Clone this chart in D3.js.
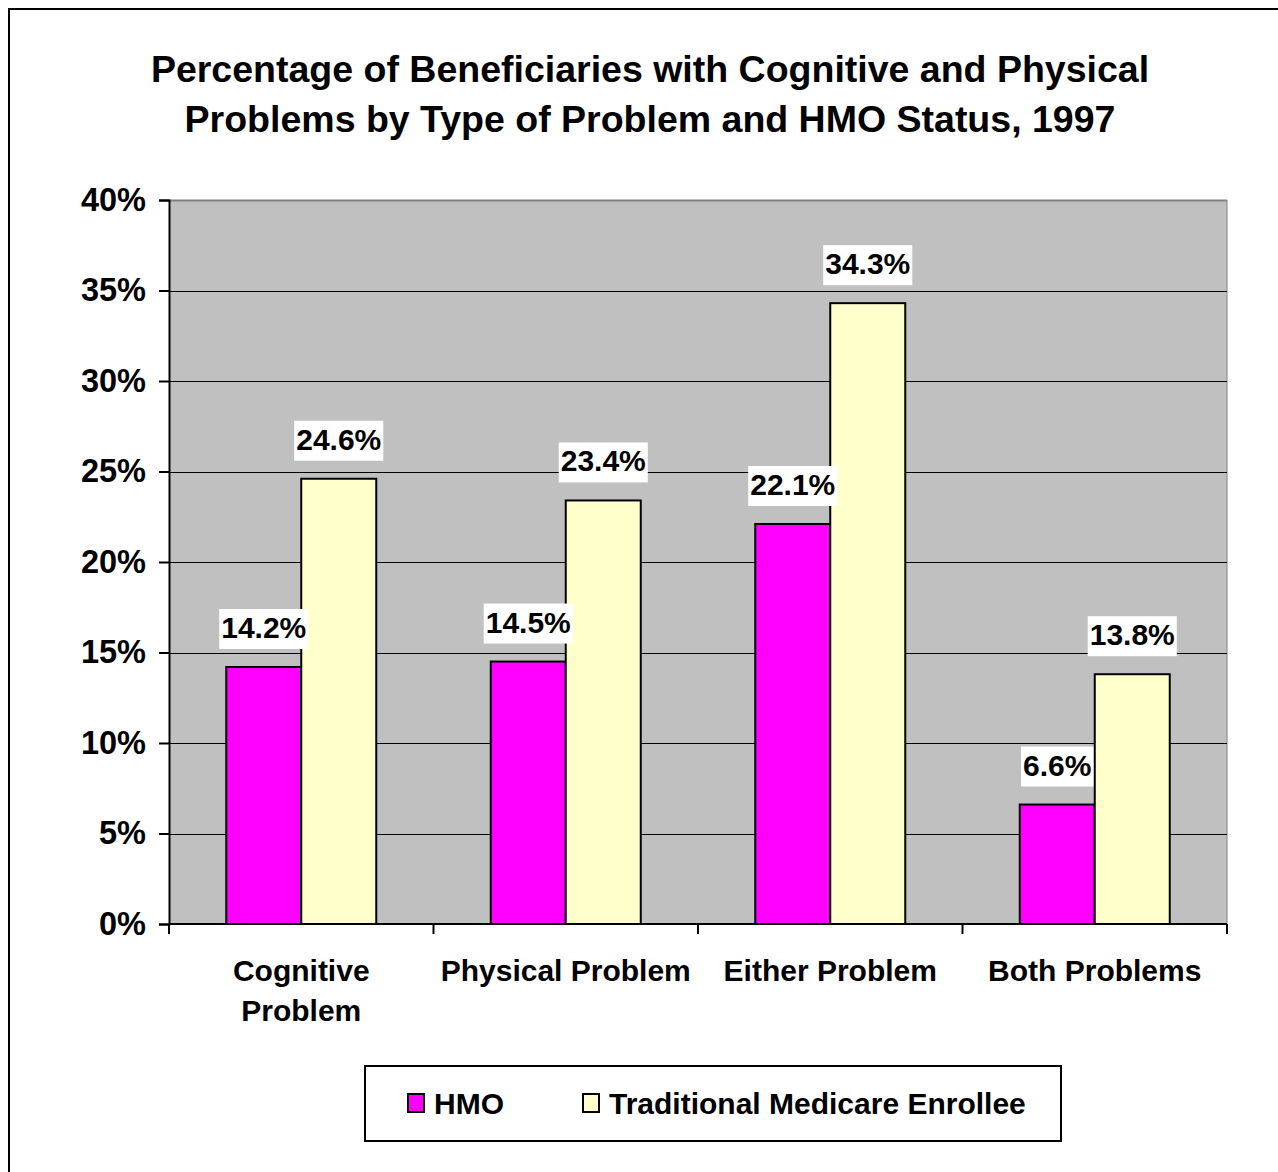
<!DOCTYPE html>
<html>
<head>
<meta charset="utf-8">
<script src="https://cdn.jsdelivr.net/npm/d3@7"></script>
<style>
  body { margin: 0; background: #fff; }
  text { font-family: "Liberation Sans", Arial, sans-serif; font-weight: bold; fill: #000; }
</style>
</head>
<body>
<script>
var categories = [["Cognitive", "Problem"], ["Physical Problem"], ["Either Problem"], ["Both Problems"]];
var seriesNames = ["HMO", "Traditional Medicare Enrollee"];
var hmo = [14.2, 14.5, 22.1, 6.6];
var traditional = [24.6, 23.4, 34.3, 13.8];
var yTicks = [0, 5, 10, 15, 20, 25, 30, 35, 40];
var titleLines = ["Percentage of Beneficiaries with Cognitive and Physical", "Problems by Type of Problem and HMO Status, 1997"];

var W = 1278, H = 1172;
var plot = {left: 169, right: 1227, top: 200, bottom: 924};
var colors = ["#ff00ff", "#ffffcc"];

var svg = d3.select("body").append("svg").attr("width", W).attr("height", H);

// outer frame (runs off the bottom/right like the original)
svg.append("rect").attr("x", 9).attr("y", 9).attr("width", W + 20).attr("height", H + 20)
  .attr("fill", "none").attr("stroke", "#000").attr("stroke-width", 2);

// title
svg.append("g").selectAll("text").data(titleLines).enter().append("text")
  .attr("x", 650).attr("y", (d, i) => 82 + i * 50)
  .attr("text-anchor", "middle").style("font-size", "37.5px")
  .text(d => d);

var x0 = d3.scaleBand().domain(d3.range(categories.length)).range([plot.left, plot.right]);
var bw = 75;
var y = d3.scaleLinear().domain([0, 40]).range([plot.bottom, plot.top]);

// plot area
svg.append("rect").attr("x", plot.left).attr("y", plot.top)
  .attr("width", plot.right - plot.left).attr("height", plot.bottom - plot.top)
  .attr("fill", "#c0c0c0");
svg.append("line").attr("x1", plot.left).attr("x2", plot.right).attr("y1", plot.top + 0.5).attr("y2", plot.top + 0.5)
  .attr("stroke", "#808080").attr("stroke-width", 2);
svg.append("line").attr("x1", plot.right).attr("x2", plot.right).attr("y1", plot.top).attr("y2", plot.bottom)
  .attr("stroke", "#808080").attr("stroke-width", 1);

// gridlines
svg.append("g").selectAll("line").data(yTicks.filter(d => d > 0 && d < 40)).enter().append("line")
  .attr("x1", plot.left).attr("x2", plot.right)
  .attr("y1", d => Math.round(y(d)) + 0.5).attr("y2", d => Math.round(y(d)) + 0.5)
  .attr("stroke", "#000").attr("stroke-width", 1);

// bars
var series = [hmo, traditional];
series.forEach(function(vals, s) {
  var g = svg.append("g");
  g.selectAll("rect").data(vals).enter().append("rect")
    .attr("x", (d, i) => x0(i) + x0.bandwidth() / 2 - bw + s * bw)
    .attr("y", d => y(d))
    .attr("width", bw)
    .attr("height", d => y(0) - y(d))
    .attr("fill", colors[s]).attr("stroke", "#000").attr("stroke-width", 2);
});

// value labels with white boxes
series.forEach(function(vals, s) {
  vals.forEach(function(v, i) {
    var cx = x0(i) + x0.bandwidth() / 2 - bw / 2 + s * bw;
    var base = y(v) - 29;
    var lg = svg.append("g");
    var t = lg.append("text").attr("x", cx).attr("y", base)
      .attr("text-anchor", "middle").style("font-size", "30px")
      .text(v.toFixed(1) + "%");
    var bb = t.node().getBBox();
    lg.insert("rect", "text").attr("x", bb.x - 2).attr("y", base - 29)
      .attr("width", bb.width + 4).attr("height", 40).attr("fill", "#fff");
  });
});

// y axis
var yAxis = d3.axisLeft(y).tickValues(yTicks).tickFormat(d => d + "%").tickSize(10).tickPadding(13);
var ya = svg.append("g").attr("transform", "translate(" + plot.left + ",0)").call(yAxis);
ya.select(".domain").attr("stroke", "#000").attr("stroke-width", 2);
ya.selectAll(".tick line").attr("stroke", "#000").attr("stroke-width", 2);
ya.selectAll(".tick text").style("font-size", "32.5px").attr("font-family", null).attr("font-weight", "bold").attr("fill", "#000");

// x axis
svg.append("line").attr("x1", plot.left).attr("x2", plot.right).attr("y1", plot.bottom).attr("y2", plot.bottom)
  .attr("stroke", "#000").attr("stroke-width", 2);
var tickXs = d3.range(categories.length + 1).map(i => plot.left + i * x0.bandwidth());
svg.append("g").selectAll("line").data(tickXs).enter().append("line")
  .attr("x1", d => d).attr("x2", d => d).attr("y1", plot.bottom).attr("y2", plot.bottom + 10)
  .attr("stroke", "#000").attr("stroke-width", 2);
var xl = svg.append("g").selectAll("text").data(categories).enter().append("text")
  .attr("x", (d, i) => x0(i) + x0.bandwidth() / 2)
  .attr("y", 981).attr("text-anchor", "middle").style("font-size", "30px");
xl.selectAll("tspan").data(d => d).enter().append("tspan")
  .attr("x", function() { return this.parentNode.getAttribute("x"); })
  .attr("dy", (d, i) => i === 0 ? 0 : 40)
  .text(d => d);

// legend
var legend = svg.append("g");
legend.append("rect").attr("x", 365).attr("y", 1066).attr("width", 696).attr("height", 75)
  .attr("fill", "#fff").attr("stroke", "#000").attr("stroke-width", 2);
var legX = [408, 583];
seriesNames.forEach(function(n, i) {
  legend.append("rect").attr("x", legX[i]).attr("y", 1094).attr("width", 16).attr("height", 18)
    .attr("fill", colors[i]).attr("stroke", "#000").attr("stroke-width", 2);
  legend.append("text").attr("x", legX[i] + 26).attr("y", 1114).style("font-size", "30px").text(n);
});
</script>
</body>
</html>
